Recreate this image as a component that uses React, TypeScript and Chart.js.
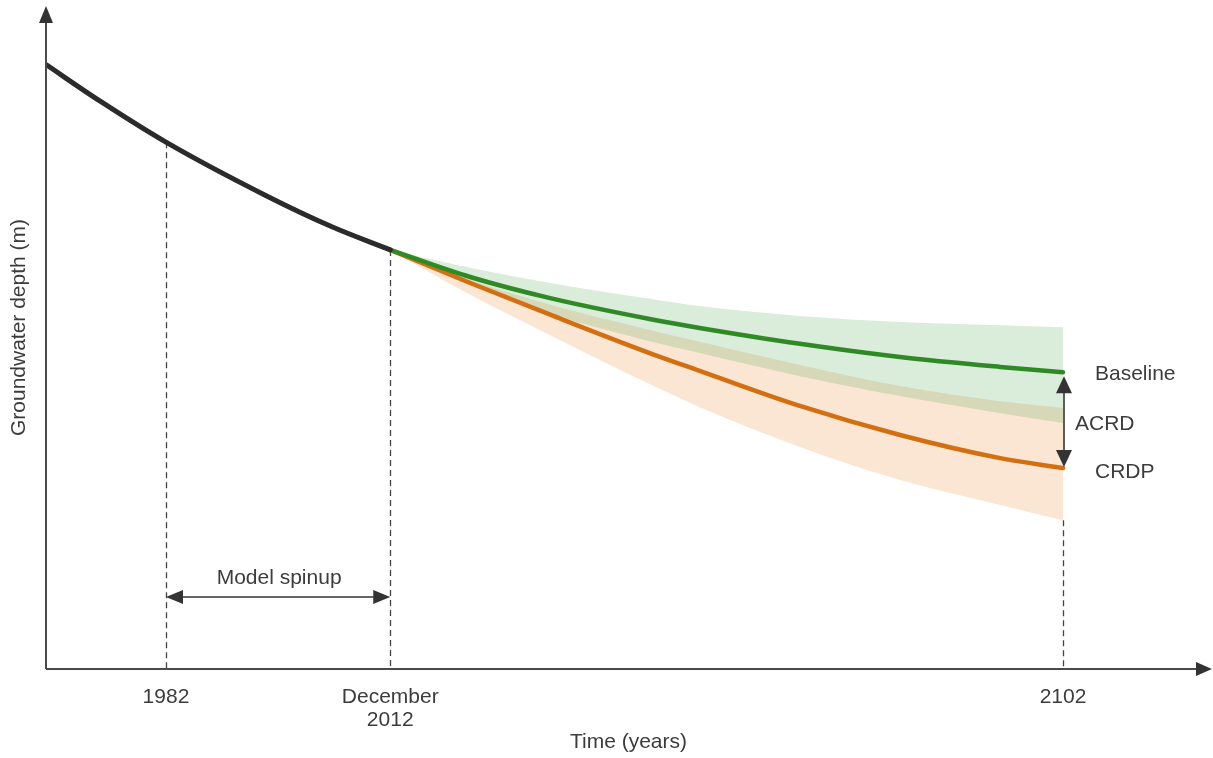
import React, { useEffect, useRef } from "react";
import { Chart, registerables } from "chart.js";

Chart.register(...registerables);

// ---- data (years, groundwater depth in arbitrary schematic units) ----
const blackYears = [1966, 1973.2, 1982, 1995.4, 2004.2, 2012];
const historicDepth = [91.4, 85.9, 79.7, 71.6, 66.9, 63.4];

const projYears = [2012, 2022.7, 2033.4, 2046.7, 2053.4, 2066.8, 2080.2, 2093.6, 2102];
const baseline = [63.4, 59.3, 56.1, 52.95, 51.6, 49.2, 47.2, 45.7, 44.9];
const crdp = [63.4, 58.4, 53.6, 47.8, 45.1, 39.8, 35.4, 31.9, 30.4];
const baselineHigh = [63.4, 60.7, 58.4, 56.0, 54.9, 53.4, 52.5, 52.0, 51.7];
const baselineLow = [63.4, 58.1, 53.7, 49.6, 47.8, 44.3, 41.3, 38.7, 37.2];
const crdpHigh = [63.4, 58.85, 55.1, 51.3, 49.5, 46.0, 42.8, 40.5, 39.5];
const crdpLow = [63.4, 56.6, 50.5, 43.1, 39.6, 33.6, 28.6, 24.8, 22.5];

const tickYears = [1982, 2012, 2102];
const tickLabels = [["1982"], ["December", "2012"], ["2102"]];
const spinupLevel = 10.9;

const X_MIN = 1965.95;
const X_MAX = 2121.8;
const Y_MIN = 0;
const Y_MAX = 100;

const FONT = '21px "Liberation Sans", Arial, sans-serif';
const TEXT = "#3c3c3c";
const INK = "#333333";

const pts = (xs: number[], ys: number[]) => xs.map((x, i) => ({ x, y: ys[i] }));

function arrowHead(ctx: CanvasRenderingContext2D, tx: number, ty: number, dx: number, dy: number, len: number, half: number) {
  const px = -dy, py = dx;
  ctx.beginPath();
  ctx.moveTo(tx, ty);
  ctx.lineTo(tx - dx * len + px * half, ty - dy * len + py * half);
  ctx.lineTo(tx - dx * len - px * half, ty - dy * len - py * half);
  ctx.closePath();
  ctx.fill();
}

const decorPlugin = {
  id: "decor",
  beforeDatasetsDraw(chart: any) {
    const { ctx, scales } = chart;
    const xs = scales.x, ys = scales.y;
    const bottom = ys.getPixelForValue(Y_MIN);
    const tops = [historicDepth[2], historicDepth[historicDepth.length - 1], crdpLow[crdpLow.length - 1]];
    ctx.save();
    ctx.strokeStyle = "#444";
    ctx.lineWidth = 1.3;
    ctx.setLineDash([6, 4]);
    tickYears.forEach((yr, i) => {
      const x = Math.round(xs.getPixelForValue(yr)) + 0.5;
      ctx.beginPath();
      ctx.moveTo(x, ys.getPixelForValue(tops[i]));
      ctx.lineTo(x, bottom);
      ctx.stroke();
    });
    ctx.restore();
  },
  afterDatasetsDraw(chart: any) {
    const { ctx, scales, chartArea } = chart;
    const xs = scales.x, ys = scales.y;
    const x0 = chartArea.left;
    const y0 = ys.getPixelForValue(Y_MIN);
    ctx.save();
    // axes
    ctx.strokeStyle = "#4a4a4a";
    ctx.fillStyle = "#333";
    ctx.lineWidth = 2;
    ctx.beginPath();
    ctx.moveTo(x0, y0);
    ctx.lineTo(x0, chartArea.top + 12);
    ctx.stroke();
    arrowHead(ctx, x0, chartArea.top - 2, 0, -1, 17, 7);
    ctx.beginPath();
    ctx.moveTo(x0, y0);
    ctx.lineTo(chartArea.right - 12, y0);
    ctx.stroke();
    arrowHead(ctx, chartArea.right + 1, y0, 1, 0, 16, 7);

    // Model spinup arrow
    const sx1 = xs.getPixelForValue(tickYears[0]);
    const sx2 = xs.getPixelForValue(tickYears[1]);
    const sy = ys.getPixelForValue(spinupLevel);
    ctx.strokeStyle = INK;
    ctx.fillStyle = INK;
    ctx.lineWidth = 1.6;
    ctx.beginPath();
    ctx.moveTo(sx1 + 10, sy);
    ctx.lineTo(sx2 - 10, sy);
    ctx.stroke();
    arrowHead(ctx, sx1, sy, -1, 0, 17, 7);
    arrowHead(ctx, sx2, sy, 1, 0, 17, 7);

    // ACRD arrow
    const ax = xs.getPixelForValue(tickYears[2]) + 1;
    const ay1 = ys.getPixelForValue(baseline[baseline.length - 1]) + 4;
    const ay2 = ys.getPixelForValue(crdp[crdp.length - 1]) - 1;
    ctx.beginPath();
    ctx.moveTo(ax, ay1 + 10);
    ctx.lineTo(ax, ay2 - 10);
    ctx.stroke();
    arrowHead(ctx, ax, ay1, 0, -1, 17, 8);
    arrowHead(ctx, ax, ay2, 0, 1, 17, 8);

    // texts
    ctx.fillStyle = TEXT;
    ctx.font = FONT;
    ctx.textBaseline = "alphabetic";
    ctx.textAlign = "center";
    tickYears.forEach((yr, i) => {
      const x = xs.getPixelForValue(yr);
      tickLabels[i].forEach((t, j) => ctx.fillText(t, x, y0 + 34 + j * 23));
    });
    ctx.fillText("Time (years)", (chartArea.left + chartArea.right) / 2, y0 + 79);
    ctx.fillText("Model spinup", (sx1 + sx2) / 2 + 1, sy - 13);
    ctx.textAlign = "left";
    ctx.fillText("Baseline", ax + 31, ys.getPixelForValue(baseline[baseline.length - 1]) + 8);
    ctx.fillText("ACRD", ax + 11, (ay1 + ay2) / 2 + 8);
    ctx.fillText("CRDP", ax + 31, ys.getPixelForValue(crdp[crdp.length - 1]) + 10);

    ctx.translate(25, (chartArea.top + y0) / 2 - 11);
    ctx.rotate(-Math.PI / 2);
    ctx.textAlign = "center";
    ctx.fillText("Groundwater depth (m)", 0, 0);
    ctx.restore();
  },
};

export default function App() {
  const ref = useRef<HTMLCanvasElement | null>(null);
  useEffect(() => {
    if (!ref.current) return;
    const band = (data: any, fill: any, color: string) => ({
      data,
      borderWidth: 0,
      pointRadius: 0,
      backgroundColor: color,
      fill,
      cubicInterpolationMode: "monotone" as const,
    });
    const line = (data: any, color: string, w: number) => ({
      data,
      borderColor: color,
      borderWidth: w,
      pointRadius: 0,
      fill: false,
      borderCapStyle: "round" as const,
      cubicInterpolationMode: "monotone" as const,
    });
    const chart = new Chart(ref.current, {
      type: "line",
      data: {
        datasets: [
          line(pts(blackYears, historicDepth), "#2b2b2b", 5),
          line(pts(projYears, baseline), "#2f8a26", 4.5),
          line(pts(projYears, crdp), "#d36f10", 4.5),
          band(pts(projYears, baselineHigh), 4, "rgba(70,160,70,0.2)"),
          band(pts(projYears, baselineLow), false, "rgba(0,0,0,0)"),
          band(pts(projYears, crdpHigh), 6, "rgba(235,150,70,0.24)"),
          band(pts(projYears, crdpLow), false, "rgba(0,0,0,0)"),
        ] as any,
      },
      options: {
        animation: false,
        responsive: true,
        maintainAspectRatio: false,
        layout: { padding: { left: 46, right: 2, top: 8, bottom: 89 } },
        scales: {
          x: { type: "linear", min: X_MIN, max: X_MAX, display: false },
          y: { type: "linear", min: Y_MIN, max: Y_MAX, display: false },
        },
        plugins: {
          legend: { display: false },
          tooltip: { enabled: false },
          filler: { drawTime: "beforeDatasetsDraw" } as any,
        },
      } as any,
      plugins: [decorPlugin],
    });
    return () => chart.destroy();
  }, []);
  return (
    <div style={{ position: "absolute", left: 0, top: 0, width: 1213, height: 758, background: "#fff" }}>
      <canvas ref={ref} />
    </div>
  );
}
